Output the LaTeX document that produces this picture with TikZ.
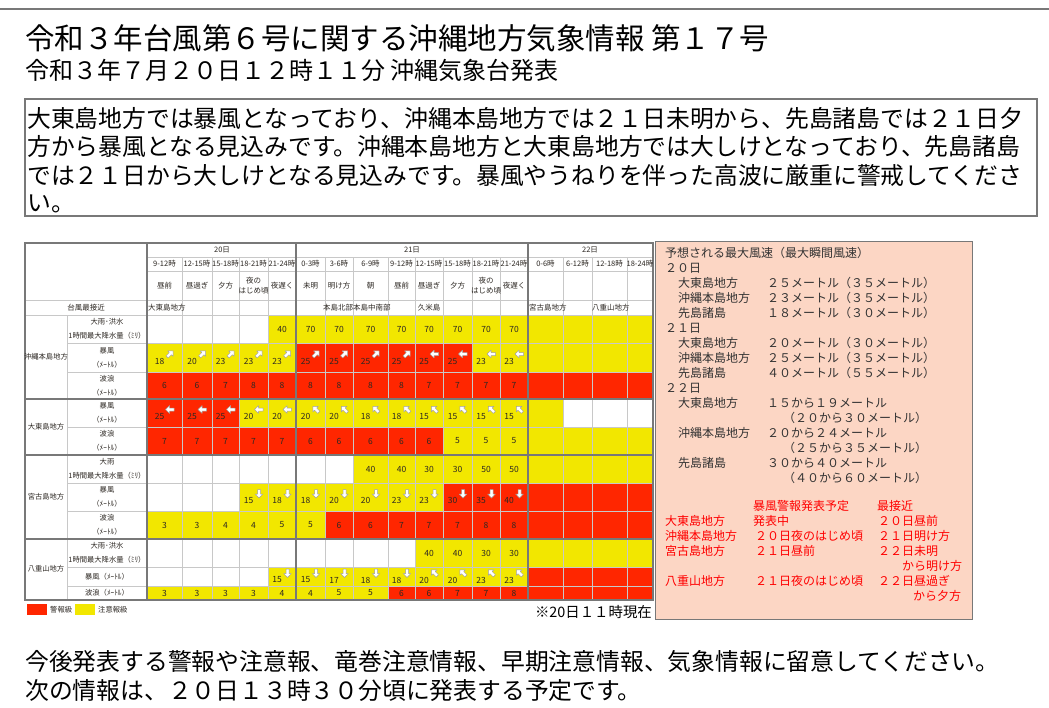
\documentclass[tikz,border=0pt]{standalone}
\usepackage{fontspec}
\setmainfont{Noto Sans CJK JP}
\usetikzlibrary{calc}

\definecolor{kR}{RGB}{255,38,0}
\definecolor{kY}{RGB}{242,231,0}
\definecolor{kW}{RGB}{255,255,255}
\definecolor{peach}{RGB}{252,214,196}
\definecolor{gridc}{RGB}{200,200,200}
\definecolor{bordc}{RGB}{120,120,120}
\definecolor{ink}{RGB}{45,40,35}

% column edges of the forecast table
\def\colx{{147,182,212,239,268,296,325,353,388,415,443,472,500,528,563,592,627,653}}

\tikzset{
    heading/.style =  {anchor=base west,
                      inner sep=0pt,
                      text=black},
    bigtitle/.style = {heading,
                      font=\fontsize{29.5}{32}\selectfont},
    subtitle/.style = {heading,
                      font=\fontsize{24}{26}\selectfont},
    bodyline/.style = {heading,
                      font=\fontsize{23.8}{28}\selectfont},
    hdr/.style =      {inner sep=0pt,
                      text=ink,
                      align=center,
                      font=\fontsize{7.5}{9.5}\selectfont},
    lbl/.style =      {inner sep=0pt,
                      text=ink,
                      align=center,
                      font=\fontsize{7.3}{14}\selectfont},
    cellnum/.style =  {inner sep=0pt,
                      text=ink,
                      font=\fontsize{8.5}{9}\selectfont},
    info/.style =     {anchor=base west,
                      inner sep=0pt,
                      text=black!80,
                      font=\fontsize{12}{15}\selectfont},
    warn/.style =     {info,
                      text=red},
    gridline/.style = {draw=gridc,
                      line width=0.7pt},
    darkline/.style = {draw=bordc,
                      line width=1.1pt},
    warr/.pic =       {\draw[gray!75, line width=0.5pt, fill=white, line join=round]
                      (-4,-1.5) -- (0.5,-1.5) -- (0.5,-3.8) -- (4.5,0) -- (0.5,3.8) -- (0.5,1.5) -- (-4,1.5) -- cycle;}
}

% one row of cells: top, bottom, colour/value/arrow angle (n = none)
\newcommand{\datarow}[3]{%
  \foreach \cf/\cv/\ca [count=\i] in {#3} {
    \pgfmathsetmacro{\xa}{\colx[\i-1]}
    \pgfmathsetmacro{\xb}{\colx[\i]}
    \pgfmathsetmacro{\xc}{(\xa+\xb)/2}
    \pgfmathsetmacro{\yc}{(#1+#2)/2}
    \fill[\cf] (\xa,#1) rectangle (\xb,#2);
    \expandafter\ifx\expandafter n\ca
      \node[cellnum] (v-#1-\i) at (\xc,\yc) {\expandafter\ifx\expandafter n\cv\else\cv\fi};
    \else
      \node[cellnum] (v-#1-\i) at (\xc-5,\yc+3.5) {\cv};
      \pic[rotate=\ca] at (\xc+5.5,\yc-3.5) {warr};
    \fi
  }
}

\begin{document}
\begin{tikzpicture}[x=1pt,y=-1pt]
\useasboundingbox (0,0) rectangle (1049,707);
\fill[white] (0,0) rectangle (1049,707);
\draw[bordc, line width=1.2pt] (0,9) -- (1049,9);

% headings
\node[bigtitle] (title) at (25,49) {令和３年台風第６号に関する沖縄地方気象情報 第１７号};
\node[subtitle] (issued) at (25,79) {令和３年７月２０日１２時１１分 沖縄気象台発表};

% summary box
\draw[bordc, line width=1.5pt] (25,99) rectangle (1037,216);
\node[bodyline] (sum1) at (27,127) {大東島地方では暴風となっており、沖縄本島地方では２１日未明から、先島諸島では２１日夕};
\node[bodyline] (sum2) at (27,155.5) {方から暴風となる見込みです。沖縄本島地方と大東島地方では大しけとなっており、先島諸島};
\node[bodyline] (sum3) at (27,184) {では２１日から大しけとなる見込みです。暴風やうねりを伴った高波に厳重に警戒してくださ};
\node[bodyline] (sum4) at (27,211) {い。};

% forecast table
\fill[white] (25,243) rectangle (653,600);
\datarow{315}{343}{kW/n/n,kW/n/n,kW/n/n,kW/n/n,kY/40/n,kY/70/n,kY/70/n,kY/70/n,kY/70/n,kY/70/n,kY/70/n,kY/70/n,kY/70/n,kY/n/n,kY/n/n,kY/n/n,kY/n/n}
\datarow{343}{372}{kY/18/45,kY/20/45,kY/23/45,kY/23/45,kY/23/45,kR/25/45,kR/25/45,kR/25/45,kR/25/45,kR/25/180,kR/25/180,kY/23/180,kY/23/180,kY/n/n,kY/n/n,kY/n/n,kY/n/n}
\datarow{372}{399}{kR/6/n,kR/6/n,kR/7/n,kR/8/n,kR/8/n,kR/8/n,kR/8/n,kR/8/n,kR/8/n,kR/7/n,kR/7/n,kR/7/n,kR/7/n,kR/n/n,kR/n/n,kR/n/n,kR/n/n}
\datarow{399}{427}{kR/25/180,kR/25/180,kR/25/180,kY/20/180,kY/20/180,kY/20/135,kY/20/135,kY/18/135,kY/18/135,kY/15/135,kY/15/135,kY/15/135,kY/15/135,kY/n/n,kW/n/n,kW/n/n,kW/n/n}
\datarow{427}{455}{kR/7/n,kR/7/n,kR/7/n,kR/7/n,kR/7/n,kR/6/n,kR/6/n,kR/6/n,kR/6/n,kR/6/n,kY/5/n,kY/5/n,kY/5/n,kY/n/n,kY/n/n,kY/n/n,kY/n/n}
\datarow{455}{483}{kW/n/n,kW/n/n,kW/n/n,kW/n/n,kW/n/n,kW/n/n,kW/n/n,kY/40/n,kY/40/n,kY/30/n,kY/30/n,kY/50/n,kY/50/n,kY/n/n,kY/n/n,kY/n/n,kY/n/n}
\datarow{483}{511}{kW/n/n,kW/n/n,kW/n/n,kY/15/270,kY/18/270,kY/18/270,kY/20/270,kY/20/270,kY/23/270,kY/23/270,kR/30/270,kR/35/270,kR/40/270,kR/n/n,kR/n/n,kR/n/n,kR/n/n}
\datarow{511}{539}{kY/3/n,kY/3/n,kY/4/n,kY/4/n,kY/5/n,kY/5/n,kR/6/n,kR/6/n,kR/7/n,kR/7/n,kR/7/n,kR/8/n,kR/8/n,kR/n/n,kR/n/n,kR/n/n,kR/n/n}
\datarow{539}{567}{kW/n/n,kW/n/n,kW/n/n,kW/n/n,kW/n/n,kW/n/n,kW/n/n,kW/n/n,kW/n/n,kY/40/n,kY/40/n,kY/30/n,kY/30/n,kY/n/n,kY/n/n,kY/n/n,kY/n/n}
\datarow{567}{586}{kW/n/n,kW/n/n,kW/n/n,kW/n/n,kY/15/270,kY/15/270,kY/17/270,kY/18/270,kY/18/270,kY/20/135,kY/20/135,kY/23/135,kY/23/135,kR/n/n,kR/n/n,kR/n/n,kR/n/n}
\datarow{586}{600}{kY/3/n,kY/3/n,kY/3/n,kY/3/n,kY/4/n,kY/4/n,kY/5/n,kY/5/n,kR/6/n,kR/6/n,kR/7/n,kR/7/n,kR/8/n,kR/n/n,kR/n/n,kR/n/n,kR/n/n}

% grid
\foreach \i in {1,2,3,4,6,7,8,9,10,11,12,14,15,16} {
  \pgfmathsetmacro{\xx}{\colx[\i]}
  \draw[gridline] (\xx,257) -- (\xx,600);
}
\foreach \yy in {257,271,343,372,427,483,511,567,586}
  \draw[gridline] (147,\yy) -- (653,\yy);
\foreach \yy in {343,372,427,483,511,567,586}
  \draw[gridline] (67,\yy) -- (147,\yy);
\draw[gridline] (25,300) -- (653,300);
\draw[gridline] (25,315) -- (653,315);
\draw[gridline] (67,315) -- (67,600);
\foreach \yy in {399,455,539}
  \draw[darkline] (25,\yy) -- (653,\yy);
\foreach \xx in {147,296,528}
  \draw[darkline] (\xx,243) -- (\xx,600);
\draw[darkline] (25,243) rectangle (653,600);

% table heads
\node[hdr] (d20) at (222,250) {20日};
\node[hdr] (d21) at (412,250) {21日};
\node[hdr] (d22) at (590,250) {22日};
\foreach \t [count=\i] in {9-12時,12-15時,15-18時,18-21時,21-24時,0-3時,3-6時,6-9時,9-12時,12-15時,15-18時,18-21時,21-24時,0-6時,6-12時,12-18時,18-24時} {
  \pgfmathsetmacro{\xa}{\colx[\i-1]}
  \pgfmathsetmacro{\xb}{\colx[\i]}
  \node[hdr] (t\i) at ({(\xa+\xb)/2},264) {\t};
}
\foreach \t [count=\i] in {昼前,昼過ぎ,夕方,{夜の\\はじめ頃},夜遅く,未明,明け方,朝,昼前,昼過ぎ,夕方,{夜の\\はじめ頃},夜遅く} {
  \pgfmathsetmacro{\xa}{\colx[\i-1]}
  \pgfmathsetmacro{\xb}{\colx[\i]}
  \node[hdr] (p\i) at ({(\xa+\xb)/2},285.5) {\t};
}
\node[hdr] (near) at (86,307.5) {台風最接近};
\node[hdr, anchor=west] (n1) at (148,307.5) {大東島地方};
\node[hdr, anchor=west] (n2) at (323,307.5) {本島北部};
\node[hdr, anchor=west] (n3) at (353,307.5) {本島中南部};
\node[hdr] (n4) at (429,307.5) {久米島};
\node[hdr, anchor=west] (n5) at (529,307.5) {宮古島地方};
\node[hdr, anchor=west] (n6) at (592,307.5) {八重山地方};

% row labels
\node[lbl] (r1) at (46,357) {沖縄本島地方};
\node[lbl] (r2) at (46,427) {大東島地方};
\node[lbl] (r3) at (46,497) {宮古島地方};
\node[lbl] (r4) at (46,569) {八重山地方};
\node[lbl] (i1) at (107,329) {大雨･洪水\\1時間最大降水量（ﾐﾘ）};
\node[lbl] (i2) at (107,357.5) {暴風\\（ﾒｰﾄﾙ）};
\node[lbl] (i3) at (107,385.5) {波浪\\（ﾒｰﾄﾙ）};
\node[lbl] (i4) at (107,413) {暴風\\（ﾒｰﾄﾙ）};
\node[lbl] (i5) at (107,441) {波浪\\（ﾒｰﾄﾙ）};
\node[lbl] (i6) at (107,469) {大雨\\1時間最大降水量（ﾐﾘ）};
\node[lbl] (i7) at (107,497) {暴風\\（ﾒｰﾄﾙ）};
\node[lbl] (i8) at (107,525) {波浪\\（ﾒｰﾄﾙ）};
\node[lbl] (i9) at (107,553) {大雨･洪水\\1時間最大降水量（ﾐﾘ）};
\node[lbl] (i10) at (107,576.5) {暴風（ﾒｰﾄﾙ）};
\node[lbl] (i11) at (107,593) {波浪（ﾒｰﾄﾙ）};

% legend
\fill[kR] (27,604) rectangle (47,615);
\node[lbl, anchor=west] (lgR) at (50,610) {警報級};
\fill[kY] (75,604) rectangle (95,615);
\node[lbl, anchor=west] (lgY) at (98,610) {注意報級};
\node[heading, anchor=base east, font=\fontsize{14.4}{16}\selectfont] (asof) at (652,617) {※20日１１時現在};

% wind panel
\filldraw[fill=peach, draw=bordc, line width=1pt] (655,241) rectangle (972,619);
\node[info] (w0) at (665,257) {予想される最大風速（最大瞬間風速）};
\node[info] (w20) at (665,272) {２０日};
\node[info] (a1) at (678,287) {大東島地方};
\node[info] (b1) at (767,287) {２５メートル（３５メートル）};
\node[info] (a2) at (678,302) {沖縄本島地方};
\node[info] (b2) at (767,302) {２３メートル（３５メートル）};
\node[info] (a3) at (678,317) {先島諸島};
\node[info] (b3) at (767,317) {１８メートル（３０メートル）};
\node[info] (w21) at (665,332) {２１日};
\node[info] (a4) at (678,347) {大東島地方};
\node[info] (b4) at (767,347) {２０メートル（３０メートル）};
\node[info] (a5) at (678,362) {沖縄本島地方};
\node[info] (b5) at (767,362) {２５メートル（３５メートル）};
\node[info] (a6) at (678,377) {先島諸島};
\node[info] (b6) at (767,377) {４０メートル（５５メートル）};
\node[info] (w22) at (665,392) {２２日};
\node[info] (a7) at (678,407) {大東島地方};
\node[info] (b7) at (767,407) {１５から１９メートル};
\node[info] (c7) at (783,422) {（２０から３０メートル）};
\node[info] (a8) at (678,437) {沖縄本島地方};
\node[info] (b8) at (767,437) {２０から２４メートル};
\node[info] (c8) at (783,452) {（２５から３５メートル）};
\node[info] (a9) at (678,467) {先島諸島};
\node[info] (b9) at (767,467) {３０から４０メートル};
\node[info] (c9) at (783,482) {（４０から６０メートル）};

% warning schedule
\node[warn] (h1) at (753,510) {暴風警報発表予定};
\node[warn] (h2) at (877,510) {最接近};
\node[warn] (e1) at (665,525) {大東島地方};
\node[warn] (f1) at (753,525) {発表中};
\node[warn] (g1) at (878,525) {２０日昼前};
\node[warn] (e2) at (665,540) {沖縄本島地方};
\node[warn] (f2) at (755,540) {２０日夜のはじめ頃};
\node[warn] (g2) at (878,540) {２１日明け方};
\node[warn] (e3) at (665,555) {宮古島地方};
\node[warn] (f3) at (755,555) {２１日昼前};
\node[warn] (g3) at (878,555) {２２日未明};
\node[warn] (k3) at (902,570) {から明け方};
\node[warn] (e4) at (665,585) {八重山地方};
\node[warn] (f4) at (755,585) {２１日夜のはじめ頃};
\node[warn] (g4) at (878,585) {２２日昼過ぎ};
\node[warn] (k4) at (913,600) {から夕方};

% closing notes
\node[bodyline] (note1) at (25,670) {今後発表する警報や注意報、竜巻注意情報、早期注意情報、気象情報に留意してください。};
\node[bodyline] (note2) at (25,699) {次の情報は、２０日１３時３０分頃に発表する予定です。};
\end{tikzpicture}
\end{document}
